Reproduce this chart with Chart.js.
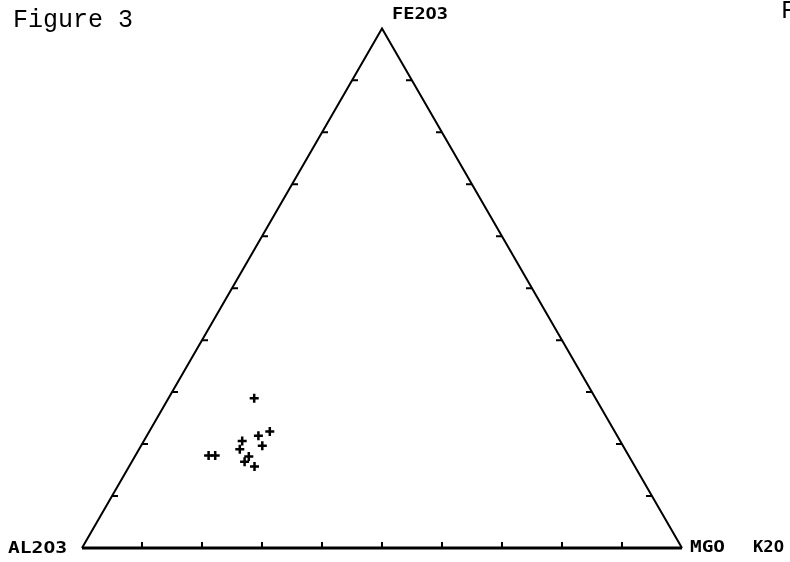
<!DOCTYPE html>
<html>
<head>
<meta charset="utf-8">
<script src="https://cdn.jsdelivr.net/npm/chart.js@4"></script>
<style>
  body { margin: 0; background: #fff; }
  canvas { display: block; }
</style>
</head>
<body>
<canvas id="ternary" width="790" height="562"></canvas>
<script>
// oxide proportions (percent)
const al2o3 = [56.9, 57.5, 59.8, 63.0, 60.1, 64.2, 70.0, 68.9, 63.4, 64.6, 63.4];
const fe2o3 = [28.8, 22.4, 21.6, 20.6, 19.7, 19.0, 17.8, 17.8, 17.6, 16.6, 15.7];
const mgo   = [14.3, 20.1, 18.6, 16.4, 20.2, 16.8, 12.2, 13.3, 19.0, 18.8, 20.9];

const tickSteps = [10, 20, 30, 40, 50, 60, 70, 80, 90];
const apexLabels = ['AL2O3', 'FE2O3', 'MGO'];
const extraLabel = 'K2O';
const title = 'Figure 3';

const H = Math.sqrt(3) / 2;

// ternary -> cartesian, side length 100
function toXY(a, f, m) {
    const s = a + f + m;
    const top = f / s * 100, right = m / s * 100;
    return { x: right + top / 2, y: top * H };
}

const points = al2o3.map((a, i) => toXY(a, fe2o3[i], mgo[i]));

const black = '#000';

const frame = {
    id: 'frame',
    afterDatasetsDraw(chart) {
        const ctx = chart.ctx;
        const xs = chart.scales.x, ys = chart.scales.y;
        const px = (p) => [xs.getPixelForValue(p.x), ys.getPixelForValue(p.y)];

        ctx.save();
        ctx.strokeStyle = black;
        ctx.lineWidth = 2;
        ctx.beginPath();
        tickSteps.forEach(t => {
            // bottom edge, ticks pointing up
            let [x, y] = px(toXY(100 - t, 0, t));
            ctx.moveTo(x, y); ctx.lineTo(x, y - 6);
            // left edge, ticks pointing right
            [x, y] = px(toXY(100 - t, t, 0));
            ctx.moveTo(x, y); ctx.lineTo(x + 6, y);
            // right edge, ticks pointing left
            [x, y] = px(toXY(0, t, 100 - t));
            ctx.moveTo(x, y); ctx.lineTo(x - 6, y);
        });
        ctx.stroke();

        // plotter style labels, stretched a bit
        const label = (text, x, y, width, align) => {
            ctx.save();
            ctx.font = 'bold 15px "DejaVu Sans Mono"';
            ctx.textBaseline = 'middle';
            const w = ctx.measureText(text).width;
            const left = align === 'right' ? x - width : x;
            ctx.translate(left, y);
            ctx.scale(width / w, 1);
            ctx.fillStyle = black;
            ctx.fillText(text, 0, 0);
            ctx.restore();
        };
        const [lx, ly] = px(toXY(100, 0, 0));
        const [tx, ty] = px(toXY(0, 100, 0));
        const [rx, ry] = px(toXY(0, 0, 100));
        label(apexLabels[0], lx - 15, ly + 1, 59, 'right');
        label(apexLabels[1], tx + 10, ty - 13, 56);
        label(apexLabels[2], rx + 8, ry, 35);
        label(extraLabel, rx + 71, ry, 31);

        ctx.font = '25px "Liberation Mono"';
        ctx.textBaseline = 'alphabetic';
        ctx.fillStyle = black;
        ctx.fillText(title, 13, 27);
        ctx.fillText('F', 781, 18);
        ctx.restore();
    }
};

new Chart(document.getElementById('ternary'), {
    type: 'scatter',
    data: {
        datasets: [
            {
                data: [toXY(100, 0, 0), toXY(0, 100, 0), toXY(0, 0, 100)],
                showLine: true,
                borderColor: black,
                borderWidth: 2,
                pointRadius: 0,
                fill: false
            },
            {
                data: [toXY(100, 0, 0), toXY(0, 0, 100)],
                showLine: true,
                borderColor: black,
                borderWidth: 3,
                pointRadius: 0
            },
            {
                data: points,
                pointStyle: 'cross',
                pointRadius: 4.5,
                borderWidth: 2.5,
                borderColor: black
            }
        ]
    },
    options: {
        responsive: false,
        animation: false,
        layout: { padding: 0, autoPadding: false },
        plugins: {
            legend: { display: false },
            tooltip: { enabled: false }
        },
        scales: {
            x: { display: false, min: -82 / 6, max: 708 / 6 },
            y: { display: false, min: -14 / 6, max: 548 / 6 }
        }
    },
    plugins: [frame]
});
</script>
</body>
</html>
